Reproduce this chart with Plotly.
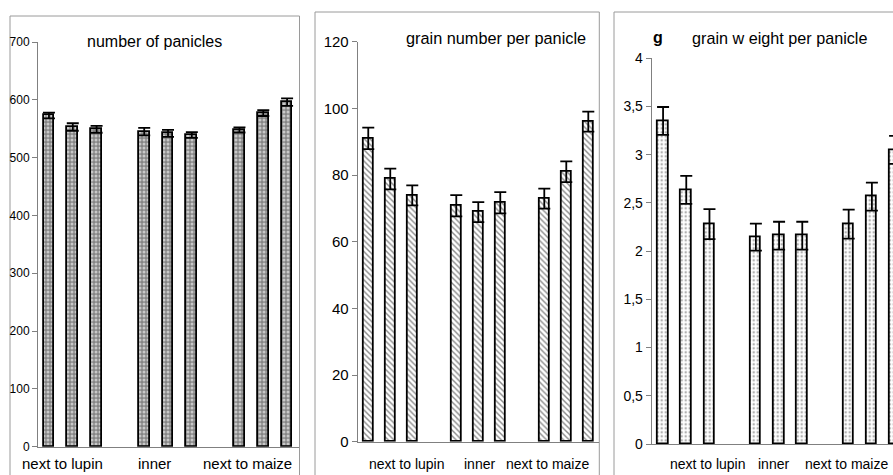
import plotly.graph_objects as go

W, H = 893, 475

groups = ["next to lupin", "inner", "next to maize"]
treatments = [0, 1, 2]

panicles = [573, 553, 549, 545, 542, 539, 548, 577, 596]
panicles_err = [5, 6.5, 6, 6.5, 6, 5, 4.5, 5, 6.5]

grain_number = [91, 78.8, 73.9, 70.8, 68.9, 71.7, 72.9, 81, 96]
grain_number_err = [3.2, 3.1, 3.0, 3.2, 3.0, 3.2, 3.0, 3.1, 3.0]

grain_weight = [3.35, 2.635, 2.28, 2.145, 2.16, 2.16, 2.28, 2.565, 3.05]
grain_weight_err = [0.145, 0.145, 0.155, 0.14, 0.145, 0.145, 0.15, 0.145, 0.145]

p1_ticks = [0, 100, 200, 300, 400, 500, 600, 700]
p2_ticks = [0, 20, 40, 60, 80, 100, 120]
p3_ticks = [0, 0.5, 1, 1.5, 2, 2.5, 3, 3.5, 4]
p3_ticktext = ["0", "0,5", "1", "1,5", "2", "2,5", "3", "3,5", "4"]

titles = ["number of panicles", "grain number per panicle", "grain w eight per panicle"]

# bar slots: three bars per group with an empty slot between groups
xpos = [g * 4 + t for g in range(len(groups)) for t in treatments]

FONT = "Arial, Liberation Sans, sans-serif"

def px(x):
    return x / W

def py(y):
    return 1 - y / H

fig = go.Figure()

patterns = [
    dict(shape=".", fgcolor="#c8c8c8", bgcolor="#858585", size=4, solidity=0.45),
    dict(shape="\\", fgcolor="#8a8a8a", bgcolor="#ffffff", size=4, solidity=0.35),
    dict(shape=".", fgcolor="#b0b0b0", bgcolor="#ffffff", size=4, solidity=0.3),
]
datas = [(panicles, panicles_err), (grain_number, grain_number_err), (grain_weight, grain_weight_err)]

for i, (vals, errs) in enumerate(datas):
    ax = "" if i == 0 else str(i + 1)
    fig.add_trace(go.Bar(
        x=xpos, y=vals, width=0.45,
        xaxis="x" + ax, yaxis="y" + ax,
        marker=dict(color="#ffffff", line=dict(color="#000000", width=1.8), pattern=patterns[i]),
        error_y=dict(type="data", array=errs, visible=True, color="#000000", thickness=1.8, width=6),
        showlegend=False, hoverinfo="skip",
    ))

axis_common = dict(showgrid=False, zeroline=False, linecolor="#808080", linewidth=1, showline=True,
                   automargin=False)

fig.update_layout(
    template="none",
    width=W, height=H,
    autosize=False,
    margin=dict(l=0, r=0, t=0, b=0, pad=0, autoexpand=False),
    paper_bgcolor="white", plot_bgcolor="white",
    font=dict(family=FONT, color="#000000"),
    bargap=0,
    xaxis=dict(domain=[px(38), px(299)], range=[-0.46, 10.5], showticklabels=False, ticks="", **axis_common),
    yaxis=dict(domain=[py(446.7), py(42)], range=[0, 700], tickvals=p1_ticks, ticks="outside", ticklen=5,
               tickcolor="#808080", tickfont=dict(size=12, family=FONT), **axis_common),
    xaxis2=dict(domain=[px(357.7), px(599.3)], range=[-0.48, 10.5], showticklabels=False, ticks="",
                anchor="y2", **axis_common),
    yaxis2=dict(domain=[py(441.7), py(41.7)], range=[0, 120], tickvals=p2_ticks, ticks="outside", ticklen=5,
                tickcolor="#808080", tickfont=dict(size=15, family=FONT), anchor="x2", **axis_common),
    xaxis3=dict(domain=[px(651.7), 1.0], range=[-0.49, 9.91], showticklabels=False, ticks="",
                anchor="y3", **axis_common),
    yaxis3=dict(domain=[py(444), py(58.3)], range=[0, 4], tickvals=p3_ticks, ticktext=p3_ticktext,
                ticks="outside", ticklen=5, tickcolor="#808080", tickfont=dict(size=14, family=FONT),
                anchor="x3", **axis_common),
)

# panel frames
frames = [(10, 299.5, 16), (315, 599.3, 12), (614, 930, 12)]
for x0, x1, y0 in frames:
    fig.add_shape(type="rect", xref="paper", yref="paper", x0=px(x0), x1=px(x1), y0=py(y0), y1=py(520),
                  line=dict(color="#9a9a9a", width=1), layer="below")

annotations = []
# titles
title_pos = [(154.5, 41.5, 16), (495.5, 37.5, 16.3), (779, 38, 16.2)]
for t, (x, y, s) in zip(titles, title_pos):
    annotations.append(dict(text=t, x=px(x), y=py(y), xref="paper", yref="paper", showarrow=False,
                            xanchor="center", yanchor="middle", font=dict(size=s, family=FONT)))
annotations.append(dict(text="<b>g</b>", x=px(658), y=py(38), xref="paper", yref="paper", showarrow=False,
                        xanchor="center", yanchor="middle", font=dict(size=16, family=FONT)))

# group labels
label_pos = [
    ([62.5, 154, 247], 463.3, 15),
    ([407, 479.5, 547], 464, 14),
    ([708, 773.8, 846.8], 464, 14),
]
for xs, y, s in label_pos:
    for g, x in zip(groups, xs):
        annotations.append(dict(text=g, x=px(x), y=py(y), xref="paper", yref="paper", showarrow=False,
                                xanchor="center", yanchor="middle", font=dict(size=s, family=FONT)))

fig.update_layout(annotations=annotations)

post = (
    "document.documentElement.style.margin='0';"
    "document.body.style.margin='0';document.body.style.padding='0';"
    "document.body.style.overflow='hidden';"
)

fig.write_html(
    "out.html",
    config={"responsive": False, "displayModeBar": False},
    post_script=post,
)
